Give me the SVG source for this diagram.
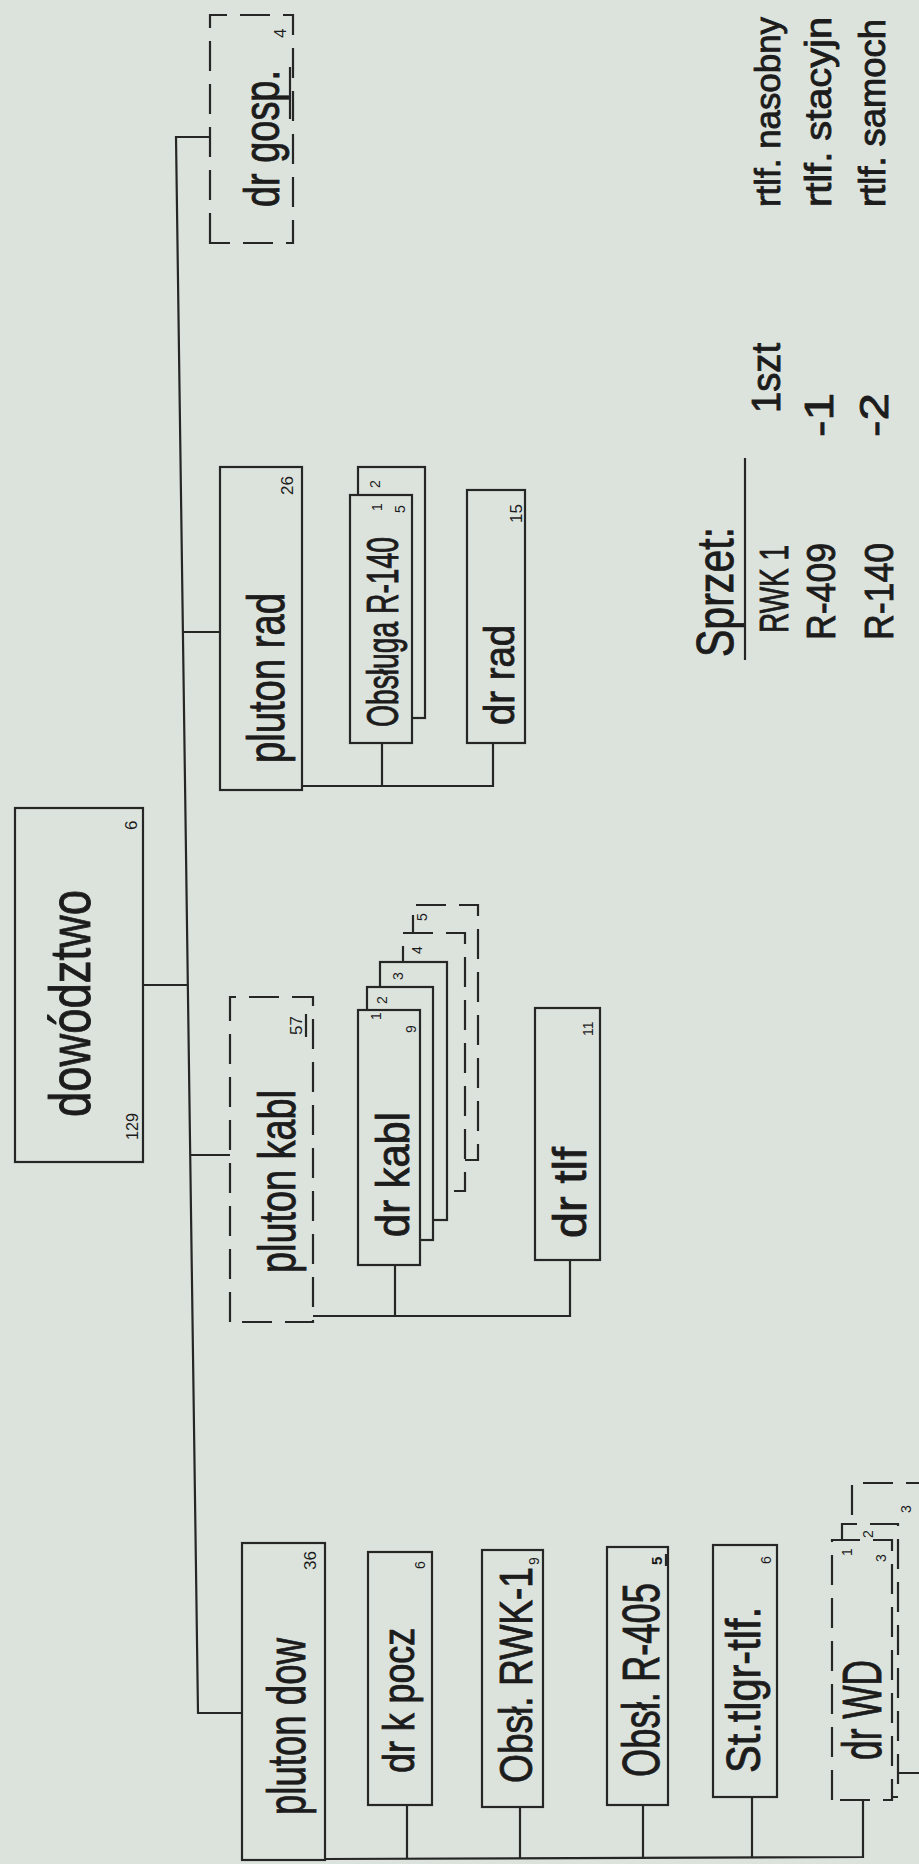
<svg xmlns="http://www.w3.org/2000/svg" width="919" height="1864" viewBox="0 0 919 1864">
<style>
.bg{fill:#dce3dc}
.box{fill:#dce3dc;stroke:#262626;stroke-width:2.2}
.dash{stroke-dasharray:30 13}
.conn{fill:none;stroke:#262626;stroke-width:2.2}
.ul{stroke:#262626;stroke-width:2.2}
text{font-family:"Liberation Sans","DejaVu Sans",sans-serif;fill:#1c1c1c}
.t{stroke:#1c1c1c;stroke-width:0.9}
.n{font-size:17px}
.s{font-size:14px}
</style>
<rect class="bg" width="919" height="1864"/>
<g transform="translate(0,1864) rotate(-90)">
  <g id="connectors">
    <polyline class="conn" points="151,242 151,198 1727,176 1727,210"/>
    <line class="conn" x1="879" y1="143" x2="879" y2="188"/>
    <line class="conn" x1="1232" y1="183" x2="1232" y2="220"/>
    <line class="conn" x1="709" y1="190" x2="709" y2="230"/>
    <polyline class="conn" points="1078,302 1078,493 1121,493"/>
    <line class="conn" x1="1078" y1="382" x2="1121" y2="382"/>
    <polyline class="conn" points="548,313 548,570 604,570"/>
    <line class="conn" x1="548" y1="395" x2="599" y2="395"/>
    <polyline class="conn" points="5,325 7,863 64,863"/>
    <line class="conn" x1="5" y1="407" x2="59" y2="407"/>
    <line class="conn" x1="6" y1="520" x2="57" y2="520"/>
    <line class="conn" x1="6" y1="643" x2="59" y2="643"/>
    <line class="conn" x1="6" y1="752" x2="67" y2="752"/>
  </g>

  <g id="dowodztwo">
    <rect class="box" x="702" y="15" width="354" height="128"/>
    <text class="t" x="747" y="90" font-size="57" textLength="227" lengthAdjust="spacingAndGlyphs">dowództwo</text>
    <text x="724" y="138" font-size="16" textLength="27" lengthAdjust="spacingAndGlyphs">129</text>
    <text class="n" x="1034" y="137">6</text>
  </g>

  <g id="dr-gosp">
    <rect class="box dash" x="1621" y="210" width="228" height="83"/>
    <text class="t" x="1657" y="279" font-size="50" textLength="137" lengthAdjust="spacingAndGlyphs">dr gosp.</text>
    <line class="ul" x1="1745" y1="290" x2="1797" y2="290"/>
    <text class="n" x="1826" y="286">4</text>
  </g>

  <g id="pluton-rad">
    <rect class="box" x="1074" y="220" width="323" height="82"/>
    <text class="t" x="1101" y="284" font-size="52" textLength="170" lengthAdjust="spacingAndGlyphs">pluton rad</text>
    <text class="n" x="1369" y="293">26</text>
  </g>

  <g id="obsluga-r140">
    <rect class="box" x="1146" y="358" width="251" height="67"/>
    <rect class="box" x="1121" y="350" width="248" height="62"/>
    <text class="t" x="1137" y="398" font-size="44" textLength="190" lengthAdjust="spacingAndGlyphs">Obsługa R-140</text>
    <text class="s" x="1353" y="382">1</text>
    <text class="s" x="1351" y="405">5</text>
    <text class="s" x="1376" y="380">2</text>
  </g>

  <g id="dr-rad">
    <rect class="box" x="1121" y="467" width="253" height="58"/>
    <text class="t" x="1139" y="514" font-size="42" textLength="100" lengthAdjust="spacingAndGlyphs">dr rad</text>
    <text class="n" x="1341" y="522">15</text>
  </g>

  <g id="pluton-kabl">
    <rect class="box dash" x="542" y="230" width="325" height="83"/>
    <text class="t" x="591" y="295" font-size="52" textLength="183" lengthAdjust="spacingAndGlyphs">pluton kabl</text>
    <text class="n" x="829" y="302">57</text>
    <line class="ul" x1="827" y1="306" x2="850" y2="306"/>
  </g>

  <g id="dr-kabl">
    <rect class="box dash" x="704" y="413" width="255" height="65"/>
    <rect class="box dash" x="673" y="403" width="258" height="62"/>
    <rect class="box" x="644" y="380" width="258" height="67"/>
    <rect class="box" x="624" y="367" width="253" height="66"/>
    <rect class="box" x="599" y="358" width="255" height="62"/>
    <text class="t" x="627" y="409" font-size="46" textLength="125" lengthAdjust="spacingAndGlyphs">dr kabl</text>
    <text class="s" x="844" y="381">1</text>
    <text class="s" x="831" y="416">9</text>
    <text class="s" x="860" y="387">2</text>
    <text class="s" x="884" y="403">3</text>
    <text class="s" x="910" y="422">4</text>
    <text class="s" x="943" y="427">5</text>
  </g>

  <g id="dr-tlf">
    <rect class="box" x="604" y="535" width="252" height="65"/>
    <text class="t" x="626" y="586" font-size="46" textLength="91" lengthAdjust="spacingAndGlyphs">dr tlf</text>
    <text class="s" x="828" y="593">11</text>
  </g>

  <g id="pluton-dow">
    <rect class="box" x="4" y="242" width="317" height="83"/>
    <text class="t" x="49" y="305" font-size="54" textLength="177" lengthAdjust="spacingAndGlyphs">pluton dow</text>
    <text class="n" x="294" y="316">36</text>
  </g>

  <g id="dr-k-pocz">
    <rect class="box" x="59" y="368" width="253" height="64"/>
    <text class="t" x="91" y="414" font-size="44" textLength="145" lengthAdjust="spacingAndGlyphs">dr k pocz</text>
    <text class="s" x="295" y="425">6</text>
  </g>

  <g id="obsl-rwk1">
    <rect class="box" x="57" y="482" width="257" height="61"/>
    <text class="t" x="81" y="532" font-size="46" textLength="216" lengthAdjust="spacingAndGlyphs">Obsł. RWK-1</text>
    <text class="s" x="299" y="539">9</text>
  </g>

  <g id="obsl-r405">
    <rect class="box" x="59" y="607" width="258" height="61"/>
    <text class="t" x="87" y="659" font-size="52" textLength="194" lengthAdjust="spacingAndGlyphs">Obsł. R-405</text>
    <text x="299" y="662" font-size="15" font-weight="bold">5</text>
    <line class="ul" x1="298" y1="666" x2="310" y2="666"/>
  </g>

  <g id="st-tlgr-tlf">
    <rect class="box" x="67" y="713" width="252" height="64"/>
    <text class="t" x="91" y="760" font-size="48" textLength="166" lengthAdjust="spacingAndGlyphs">St.tlgr-tlf.</text>
    <text class="s" x="300" y="771">6</text>
  </g>

  <g id="dr-wd">
    <rect class="box dash" x="91" y="852" width="290" height="90"/>
    <rect class="box dash" x="67" y="842" width="273" height="56"/>
    <rect class="box dash" x="64" y="832" width="260" height="60"/>
    <text class="t" x="104" y="881" font-size="56" textLength="100" lengthAdjust="spacingAndGlyphs">dr WD</text>
    <text class="s" x="308" y="852">1</text>
    <text class="s" x="302" y="886">3</text>
    <text class="s" x="326" y="873">2</text>
    <text class="s" x="351" y="911">3</text>
  </g>

  <g id="legend">
    <text class="t" x="1207" y="733" font-size="52" textLength="130" lengthAdjust="spacingAndGlyphs">Sprzet:</text>
    <line class="ul" x1="1204" y1="745" x2="1406" y2="745" stroke-width="2.8"/>
    <text class="t" x="1231" y="788" font-size="40" textLength="88" lengthAdjust="spacingAndGlyphs">RWK 1</text>
    <text class="t" x="1451" y="780" font-size="40" textLength="70" lengthAdjust="spacingAndGlyphs">1szt</text>
    <text class="t" x="1657" y="780" font-size="35" textLength="190" lengthAdjust="spacingAndGlyphs">rtlf. nasobny</text>
    <text class="t" x="1224" y="835" font-size="40" textLength="97" lengthAdjust="spacingAndGlyphs">R-409</text>
    <text class="t" x="1427" y="833" font-size="40" textLength="44" lengthAdjust="spacingAndGlyphs">-1</text>
    <text class="t" x="1657" y="831" font-size="37" textLength="190" lengthAdjust="spacingAndGlyphs">rtlf. stacyjn</text>
    <text class="t" x="1224" y="893" font-size="40" textLength="97" lengthAdjust="spacingAndGlyphs">R-140</text>
    <text class="t" x="1427" y="888" font-size="40" textLength="44" lengthAdjust="spacingAndGlyphs">-2</text>
    <text class="t" x="1657" y="885" font-size="36" textLength="188" lengthAdjust="spacingAndGlyphs">rtlf. samoch</text>
  </g>
</g>
</svg>
